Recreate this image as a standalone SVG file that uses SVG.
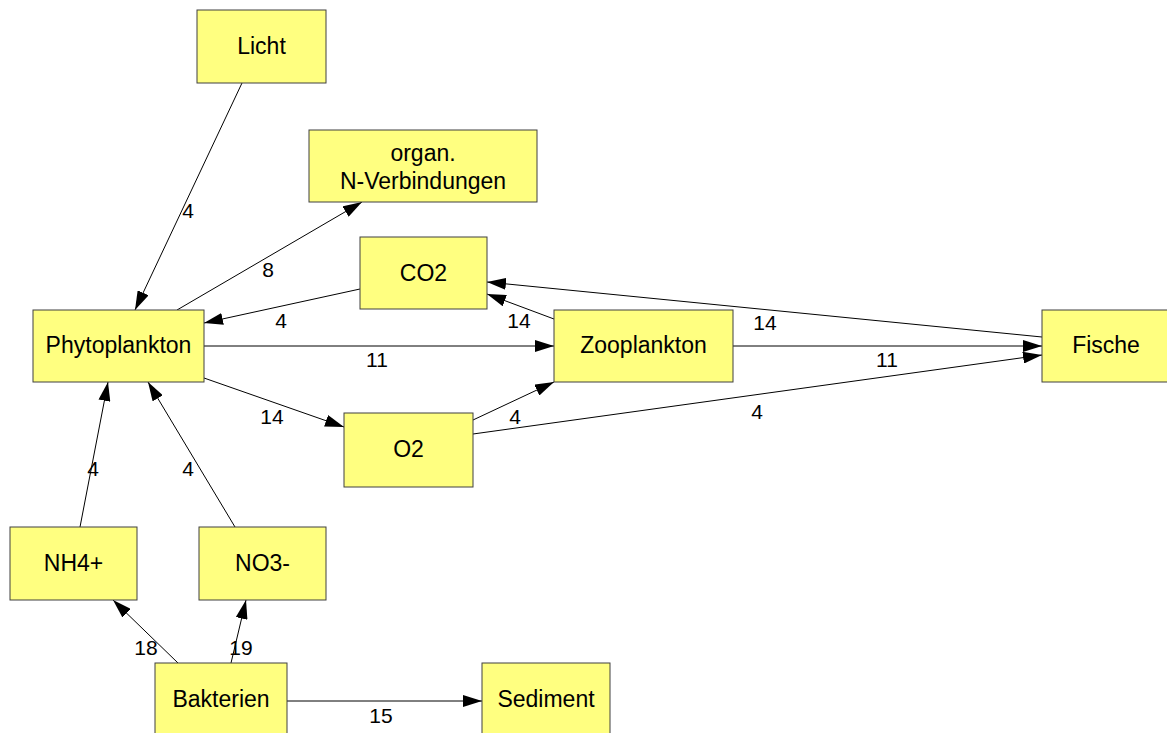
<svg xmlns="http://www.w3.org/2000/svg" width="1167" height="733" viewBox="0 0 1167 733">
<style>
.node rect{fill:#ffff80;stroke:#404040;stroke-width:1}
.node text{font-family:"Liberation Sans",Arial,sans-serif;font-size:23px;fill:#000;text-anchor:middle}
.edges line{stroke:#000;stroke-width:1;marker-end:url(#ah)}
.edges text{font-family:"Liberation Sans",Arial,sans-serif;font-size:21px;fill:#000;text-anchor:middle}
</style>
<defs>
<marker id="ah" markerUnits="userSpaceOnUse" markerWidth="20" markerHeight="12" refX="19" refY="6" orient="auto">
<path d="M0,0 L19,6 L0,12 Z" fill="#000"/>
</marker>
</defs>
<rect width="1167" height="733" fill="#fff"/>
<g class="edges">
<line x1="242" y1="83" x2="135" y2="310"/><text x="188" y="218">4</text>
<line x1="177" y1="310" x2="362" y2="202"/><text x="268" y="277">8</text>
<line x1="360" y1="289" x2="204" y2="323"/><text x="281" y="328">4</text>
<line x1="204" y1="346" x2="554" y2="346"/><text x="377" y="367">11</text>
<line x1="204" y1="378" x2="344" y2="427"/><text x="272" y="424">14</text>
<line x1="554" y1="319" x2="487" y2="294"/><text x="519" y="328">14</text>
<line x1="1042" y1="337" x2="487" y2="282"/><text x="765" y="330">14</text>
<line x1="733" y1="346" x2="1042" y2="346"/><text x="887" y="367">11</text>
<line x1="473" y1="420" x2="554" y2="382"/><text x="515" y="424">4</text>
<line x1="473" y1="434" x2="1042" y2="355"/><text x="757" y="419">4</text>
<line x1="80" y1="527" x2="108" y2="382"/><text x="93" y="476">4</text>
<line x1="235" y1="527" x2="148" y2="382"/><text x="188" y="476">4</text>
<line x1="178" y1="663" x2="113" y2="600"/><text x="146" y="655">18</text>
<line x1="231" y1="663" x2="246" y2="600"/><text x="241" y="655">19</text>
<line x1="287" y1="701" x2="482" y2="701"/><text x="381" y="723">15</text>
</g>
<g id="licht" class="node"><rect x="197" y="10" width="129" height="73"/><text x="261.5" y="54">Licht</text></g>
<g id="organ" class="node"><rect x="309" y="130" width="228" height="72"/><text x="423" y="161">organ.</text><text x="423" y="189">N-Verbindungen</text></g>
<g id="co2" class="node"><rect x="360" y="237" width="127" height="72"/><text x="423.5" y="281">CO2</text></g>
<g id="phyto" class="node"><rect x="33" y="310" width="171" height="72"/><text x="118.5" y="353">Phytoplankton</text></g>
<g id="zoo" class="node"><rect x="554" y="310" width="179" height="72"/><text x="643.5" y="353">Zooplankton</text></g>
<g id="fische" class="node"><rect x="1042" y="310" width="128" height="72"/><text x="1106" y="353">Fische</text></g>
<g id="o2" class="node"><rect x="344" y="413" width="129" height="74"/><text x="408.5" y="457">O2</text></g>
<g id="nh4" class="node"><rect x="10" y="527" width="127" height="73"/><text x="73.5" y="571">NH4+</text></g>
<g id="no3" class="node"><rect x="199" y="527" width="127" height="73"/><text x="262.5" y="571">NO3-</text></g>
<g id="bakt" class="node"><rect x="155" y="663" width="132" height="75"/><text x="221" y="707">Bakterien</text></g>
<g id="sed" class="node"><rect x="482" y="663" width="128" height="75"/><text x="546" y="707">Sediment</text></g>
</svg>
